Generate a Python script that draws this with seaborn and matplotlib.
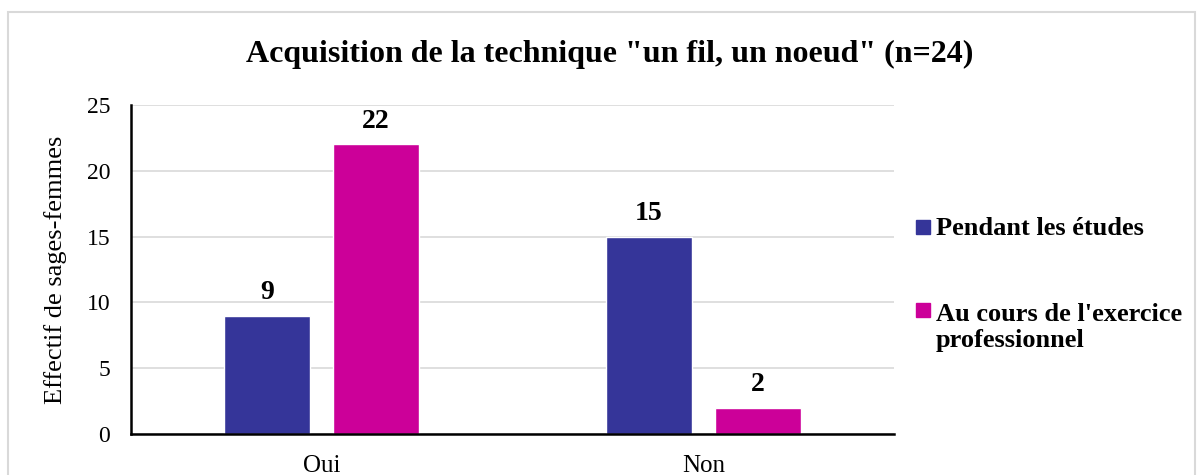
import numpy as np
import pandas as pd
import seaborn as sns
import matplotlib.pyplot as plt
from matplotlib.patches import Rectangle

# données
categories = ['Oui', 'Non']
series = ['Pendant les études', "Au cours de l'exercice\nprofessionnel"]
pendant = [9, 15]
exercice = [22, 2]
yticks = [0, 5, 10, 15, 20, 25]

df = pd.DataFrame({
    'reponse': categories * 2,
    'periode': [series[0]] * 2 + [series[1]] * 2,
    'effectif': pendant + exercice,
})

W, H = 1197, 475

sns.set_style('white')
plt.rcParams['font.family'] = ['Liberation Serif', 'DejaVu Serif']
for k in ['text.color', 'axes.labelcolor', 'xtick.color', 'ytick.color']:
    plt.rcParams[k] = 'black'

fig = plt.figure(figsize=(W / 100, H / 100), dpi=100)
ax = fig.add_axes([131 / W, 1 - 434 / H, (894 - 131) / W, (434 - 105) / H])

palette = ['#353599', '#CC0099']
sns.barplot(data=df, x='reponse', y='effectif', hue='periode', order=categories,
            hue_order=series, palette=palette, width=0.57, gap=0.21,
            saturation=1, ax=ax, legend=False)

for cont in ax.containers:
    ax.bar_label(cont, padding=7.5, fontsize=20, fontweight='bold')

ax.set_xlim(-0.5, 1.5)
ax.set_ylim(0, 25)
ax.set_yticks(yticks)
ax.yaxis.grid(True, color='#D9D9D9', linewidth=1.2)
ax.set_axisbelow(True)
ax.set_xlabel('')
ax.set_ylabel('Effectif de sages-femmes', fontsize=19, labelpad=14)
ax.tick_params(axis='y', labelsize=17, length=0, pad=15)
ax.set_xticks([0, 1])
ax.set_xticklabels(categories, fontsize=18)
ax.set_xticks([-0.5, 0.5, 1.5], minor=True)
ax.tick_params(axis='x', which='major', length=0, pad=15)
ax.tick_params(axis='x', which='minor', length=4, width=1.5, color='black', direction='out')
for s in ['top', 'right']:
    ax.spines[s].set_visible(False)
for s in ['left', 'bottom']:
    ax.spines[s].set_color('black')
    ax.spines[s].set_linewidth(1.8)

fig.text(610 / W, 1 - 54 / H, 'Acquisition de la technique "un fil, un noeud" (n=24)',
         ha='center', va='center', fontsize=23, fontweight='bold')

# légende à droite (carré aligné sur la première ligne)
leg_base = [235, 318]
for c, lab, yb in zip(palette, series, leg_base):
    fig.patches.append(Rectangle((916 / W, 1 - (yb - 1) / H), 14 / W, 14 / H,
                                 transform=fig.transFigure, color=c))
    y_last = yb + 29 * lab.count('\n')
    fig.text(936 / W, 1 - y_last / H, lab, ha='left', va='baseline', fontsize=19,
             fontweight='bold', linespacing=1.17)

fig.patches.append(Rectangle((8 / W, -0.02), 1187 / W, 1 - 12 / H + 0.02,
                             transform=fig.transFigure, fill=False,
                             edgecolor='#D9D9D9', linewidth=1.5))

fig.savefig('out.png', dpi=100)
